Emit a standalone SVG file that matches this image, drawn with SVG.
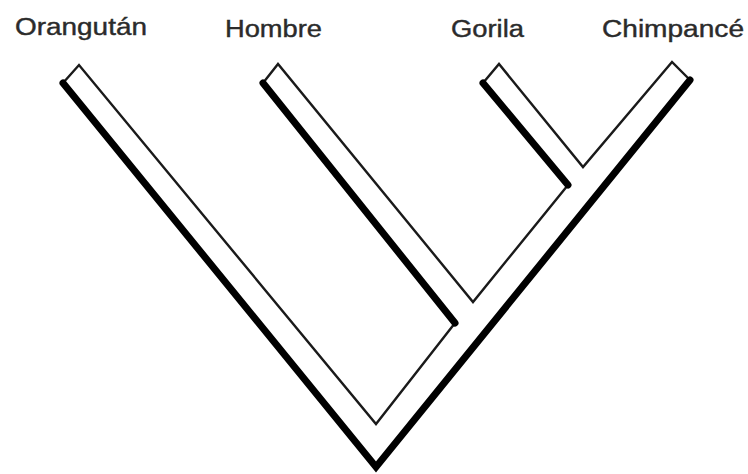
<svg xmlns="http://www.w3.org/2000/svg" width="748" height="474" viewBox="0 0 748 474">
  <style>
    .lbl { font-family: "Liberation Sans", Arial, sans-serif; font-size: 23px; fill: #2b2b2b; stroke: #2b2b2b; stroke-width: 0.4; }
    .thin { fill: #fff; stroke: #1a1a1a; stroke-width: 2.4; stroke-linejoin: miter; }
    .thick { fill: none; stroke: #000; stroke-width: 7; stroke-linejoin: miter; stroke-linecap: round; }
  </style>
  <rect width="748" height="474" fill="#ffffff"/>
  <g id="tree">
    <path class="thin" d="M63,83 L79,65 L376,424 L455,323 L263,83 L278,64 L473,302 L568,185 L483,83 L499,64 L583,167 L672,62 L690,80 L376,467 Z"/>
  </g>
  <g id="connectors">
    <polyline class="thick" points="63,83 376,467 690,80"/>
    <line class="thick" x1="263" y1="83" x2="455" y2="323"/>
    <line class="thick" x1="483" y1="83" x2="568" y2="185"/>
  </g>
  <g id="orangutan"><text class="lbl" x="15" y="35" textLength="132" lengthAdjust="spacingAndGlyphs">Orangután</text></g>
  <g id="hombre"><text class="lbl" x="225" y="37" textLength="97" lengthAdjust="spacingAndGlyphs">Hombre</text></g>
  <g id="gorila"><text class="lbl" x="451" y="37" textLength="73" lengthAdjust="spacingAndGlyphs">Gorila</text></g>
  <g id="chimpance"><text class="lbl" x="602" y="37" textLength="142" lengthAdjust="spacingAndGlyphs">Chimpancé</text></g>
</svg>
